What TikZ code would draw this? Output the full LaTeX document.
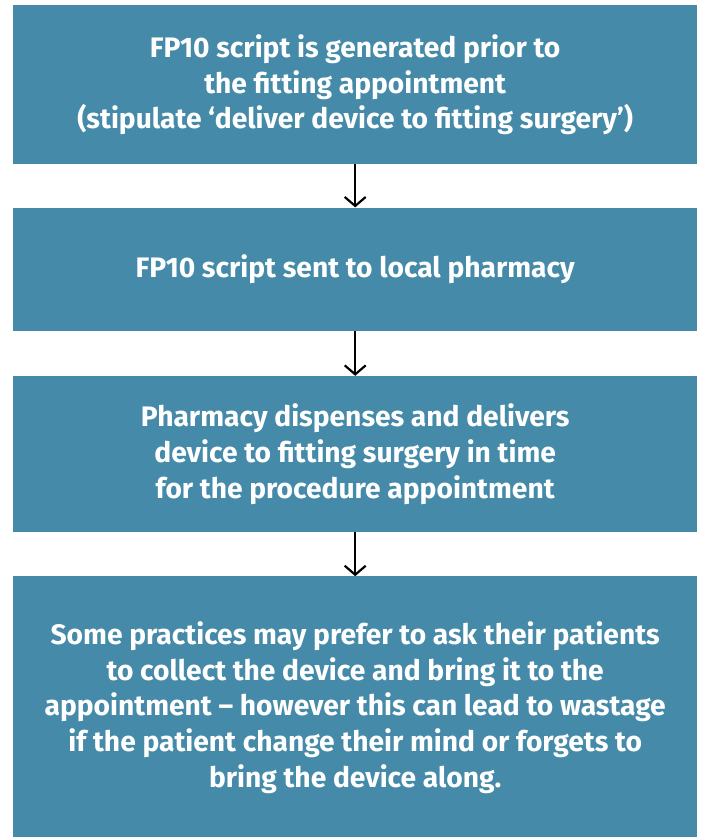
\documentclass[tikz,border=0pt]{standalone}
\usepackage{fontspec}
\setmainfont{Fira Sans}
\usepackage{xcolor}
\usetikzlibrary{positioning,arrows.meta}
\definecolor{FlowTeal}{HTML}{458AA8}
\tikzset{
  box/.style={fill=FlowTeal,text=white,align=center,inner sep=0pt,
    minimum width=684pt,font=\fontsize{28.2}{35.7}\selectfont\bfseries},
  arr/.style={-{Straight Barb[length=9pt,width=21pt]},line width=2.2pt},
}
\begin{document}
\begin{tikzpicture}[x=1pt,y=1pt,node distance=44pt]
\useasboundingbox (0,0) rectangle (701,-837);
\node[box, minimum height=159pt, anchor=north west] (script) at (13,-5)
  {FP10 script is generated prior to\\ the fitting appointment\\
   (stipulate ‘deliver device to fitting surgery’)};
\node[box, below=43pt of script, minimum height=123pt] (send)
  {FP10 script sent to local pharmacy};
\node[box, below=45pt of send, minimum height=156pt] (dispense)
  {Pharmacy dispenses and delivers\\ device to fitting surgery in time\\
   for the procedure appointment};
\node[box, below=44pt of dispense, minimum height=262pt] (collect)
  {Some practices may prefer to ask their patients\\
   to collect the device and bring it to the\\
   appointment -- however this can lead to wastage\\
   if the patient change their mind or forgets to\\
   bring the device along.};
\draw[arr] (script) -- (send);
\draw[arr] (send) -- (dispense);
\draw[arr] (dispense) -- (collect);
\end{tikzpicture}
\end{document}
